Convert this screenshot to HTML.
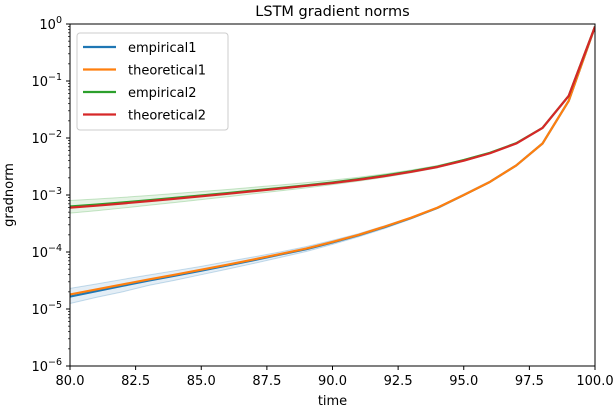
<!DOCTYPE html>
<html><head><meta charset="utf-8"><style>
body{margin:0;background:#fff}
svg{display:block;font-family:"DejaVu Sans","Liberation Sans",sans-serif}
</style></head><body>
<svg id="c" width="614" height="412"></svg>
<script>
const times=[80,81,82,83,84,85,86,87,88,89,90,91,92,93,94,95,96,97,98,99,100];
const theoretical1=[1.8e-5,2.2e-5,2.7e-5,3.3e-5,4.0e-5,4.9e-5,6.0e-5,7.4e-5,9.2e-5,1.15e-4,1.5e-4,2.0e-4,2.8e-4,4.0e-4,6.0e-4,1.0e-3,1.7e-3,3.3e-3,8.0e-3,4.5e-2,0.9];
const empirical1=[1.65e-5,2.05e-5,2.55e-5,3.15e-5,3.85e-5,4.7e-5,5.8e-5,7.2e-5,9.0e-5,1.12e-4,1.47e-4,1.97e-4,2.75e-4,3.95e-4,5.95e-4,1.0e-3,1.7e-3,3.3e-3,8.0e-3,4.5e-2,0.9];
const band1Low=[1.25e-5,1.6e-5,2.0e-5,2.6e-5,3.2e-5,4.0e-5,5.0e-5,6.3e-5,8.0e-5,1.02e-4,1.36e-4,1.85e-4,2.6e-4,3.8e-4,5.8e-4,9.8e-4,1.68e-3,3.25e-3,7.9e-3,4.4e-2,0.88];
const band1High=[2.3e-5,2.75e-5,3.3e-5,3.95e-5,4.7e-5,5.6e-5,6.8e-5,8.2e-5,1.0e-4,1.24e-4,1.6e-4,2.1e-4,2.9e-4,4.1e-4,6.1e-4,1.02e-3,1.72e-3,3.35e-3,8.1e-3,4.6e-2,0.92];
const theoretical2=[6.0e-4,6.5e-4,7.1e-4,7.8e-4,8.6e-4,9.5e-4,1.05e-3,1.17e-3,1.3e-3,1.45e-3,1.62e-3,1.85e-3,2.15e-3,2.55e-3,3.1e-3,4.0e-3,5.4e-3,8.0e-3,1.5e-2,5.5e-2,0.9];
const empirical2=[6.3e-4,6.8e-4,7.4e-4,8.1e-4,8.9e-4,9.8e-4,1.08e-3,1.2e-3,1.33e-3,1.48e-3,1.66e-3,1.9e-3,2.2e-3,2.6e-3,3.15e-3,4.1e-3,5.5e-3,8.1e-3,1.5e-2,5.5e-2,0.9];
const band2Low=[4.8e-4,5.3e-4,5.9e-4,6.6e-4,7.4e-4,8.3e-4,9.3e-4,1.05e-3,1.18e-3,1.33e-3,1.52e-3,1.75e-3,2.05e-3,2.45e-3,3.0e-3,3.9e-3,5.3e-3,7.9e-3,1.48e-2,5.4e-2,0.88];
const band2High=[8.0e-4,8.5e-4,9.1e-4,9.8e-4,1.06e-3,1.15e-3,1.25e-3,1.37e-3,1.5e-3,1.65e-3,1.82e-3,2.05e-3,2.35e-3,2.75e-3,3.3e-3,4.2e-3,5.6e-3,8.2e-3,1.52e-2,5.6e-2,0.92];
const xTicks=[80,82.5,85,87.5,90,92.5,95,97.5,100];
const yExps=[0,-1,-2,-3,-4,-5,-6];

const L=70,R=595,T=24,B=366;
const xs=v=>L+(v-80)/20*(R-L);
const ys=v=>T+(-Math.log10(v))/6*(B-T);
const svg=document.getElementById('c');
const NS='http://www.w3.org/2000/svg';
function mk(tag,attrs,parent){const e=document.createElementNS(NS,tag);for(const k in attrs)e.setAttribute(k,attrs[k]);(parent||svg).appendChild(e);return e;}
function pts(arr){return arr.map((v,i)=>xs(times[i]).toFixed(2)+','+ys(v).toFixed(2)).join(' ');}

let clip=mk('clipPath',{id:'cp'});mk('rect',{x:L,y:T,width:R-L,height:B-T},clip);
const g=mk('g',{'clip-path':'url(#cp)'});
function band(lo,hi,color,name){
  const p=pts(lo)+' '+hi.map((v,i)=>i).reverse().map(i=>xs(times[i]).toFixed(2)+','+ys(hi[i]).toFixed(2)).join(' ');
  const e=mk('polygon',{points:p,fill:color,'fill-opacity':0.12},g);
  
  
  const a=mk('polyline',{points:pts(lo),fill:'none',stroke:color,'stroke-opacity':0.25,'stroke-width':1},g);
  
  
  const b=mk('polyline',{points:pts(hi),fill:'none',stroke:color,'stroke-opacity':0.25,'stroke-width':1},g);
  
  
}
band(band1Low,band1High,'#1f77b4','empirical1-runs');
band(band2Low,band2High,'#2ca02c','empirical2-runs');
function line(arr,color,name){
  const e=mk('polyline',{points:pts(arr),fill:'none',stroke:color,'stroke-width':2.2,'stroke-linejoin':'round'},g);
  
  
}
line(empirical1,'#1f77b4','empirical1-line');
line(theoretical1,'#ff7f0e','theoretical1-line');
line(empirical2,'#2ca02c','empirical2-line');
line(theoretical2,'#d62728','theoretical2-line');

// axes frame
const fr=mk('rect',{x:L,y:T,width:R-L,height:B-T,fill:'none',stroke:'#000','stroke-width':1});


xTicks.forEach(t=>{
  mk('line',{x1:xs(t),x2:xs(t),y1:B,y2:B+4,stroke:'#000'});
  const e=mk('text',{x:xs(t),y:B+19,'text-anchor':'middle','font-size':13});
  e.textContent=t.toFixed(1);
  
  
});
yExps.forEach(ex=>{
  const y=ys(Math.pow(10,ex));
  mk('line',{x1:L-4,x2:L,y1:y,y2:y,stroke:'#000'});
  if(ex>-6)for(let m=2;m<10;m++){const yy=ys(m*Math.pow(10,ex-1));mk('line',{x1:L-2,x2:L,y1:yy,y2:yy,stroke:'#000','stroke-width':0.7});}
  const e=mk('text',{x:L-8,y:y+5,'text-anchor':'end','font-size':13});
  
  
  e.innerHTML='10<tspan dy="-6" font-size="9.5">'+(ex===0?'0':'\u2212'+(-ex))+'</tspan>';
});
let t=mk('text',{x:(L+R)/2,y:16,'text-anchor':'middle','font-size':14.5});t.textContent='LSTM gradient norms';

t=mk('text',{x:(L+R)/2,y:405,'text-anchor':'middle','font-size':13});t.textContent='time';

t=mk('text',{x:13,y:(T+B)/2,'text-anchor':'middle','font-size':13,transform:'rotate(-90 13 '+(T+B)/2+')'});t.textContent='gradnorm';


// legend
const lg=mk('g',{});


mk('rect',{x:77,y:33,width:151,height:97,rx:3,fill:'#fff','fill-opacity':0.8,stroke:'#ccc'},lg);
const legNames=['empirical1','theoretical1','empirical2','theoretical2'];
const legColors=['#1f77b4','#ff7f0e','#2ca02c','#d62728'];
legNames.forEach((n,i)=>{
  const y=47+i*22.5;
  mk('line',{x1:83,x2:116,y1:y,y2:y,stroke:legColors[i],'stroke-width':2.2},lg);
  const e=mk('text',{x:128,y:y+5,'font-size':13},lg);
  e.textContent=n;
  
  
});
</script>
</body></html>
